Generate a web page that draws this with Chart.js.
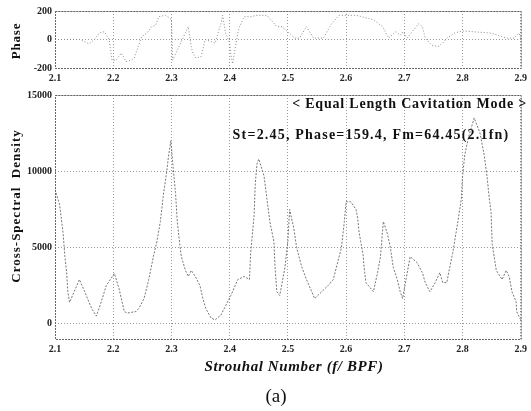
<!DOCTYPE html>
<html>
<head>
<meta charset="utf-8">
<script src="https://cdn.jsdelivr.net/npm/chart.js@4.4.1/dist/chart.umd.min.js"></script>
<style>
  html, body { margin: 0; padding: 0; background: #fff; }
  #wrap { position: relative; width: 531px; height: 411px; }
  #phase { position: absolute; left: 0; top: 0; }
  #csd { position: absolute; left: 0; top: 86px; }
</style>
</head>
<body>
<div id="wrap">
  <canvas id="phase" width="531" height="86"></canvas>
  <canvas id="csd" width="531" height="325"></canvas>
</div>
<script>
// Strouhal number axis ticks
const stTicks = [2.1, 2.2, 2.3, 2.4, 2.5, 2.6, 2.7, 2.8, 2.9];
const phaseTicks = [-200, 0, 200];
const csdTicks = [0, 5000, 10000, 15000];

// cross-spectral density vs. Strouhal number
const csdSt = [
  2.100, 2.108, 2.114, 2.117, 2.120, 2.122, 2.125, 2.142, 2.151, 2.163,
  2.171, 2.180, 2.188, 2.202, 2.210, 2.219, 2.224, 2.239, 2.244, 2.253,
  2.261, 2.269, 2.275, 2.281, 2.286, 2.292, 2.295, 2.299, 2.303, 2.307,
  2.310, 2.315, 2.317, 2.324, 2.329, 2.334, 2.341, 2.349, 2.354, 2.359,
  2.368, 2.375, 2.385, 2.402, 2.414, 2.425, 2.434, 2.436, 2.442, 2.444,
  2.447, 2.450, 2.459, 2.464, 2.469, 2.476, 2.478, 2.481, 2.486, 2.495,
  2.500, 2.503, 2.510, 2.515, 2.524, 2.532, 2.541, 2.546, 2.558, 2.569,
  2.578, 2.592, 2.597, 2.600, 2.608, 2.617, 2.620, 2.622, 2.625, 2.629,
  2.631, 2.634, 2.647, 2.654, 2.659, 2.664, 2.671, 2.676, 2.681, 2.688,
  2.693, 2.697, 2.710, 2.722, 2.731, 2.736, 2.744, 2.753, 2.761, 2.766,
  2.773, 2.778, 2.783, 2.792, 2.798, 2.800, 2.804, 2.810, 2.820, 2.830,
  2.837, 2.842, 2.846, 2.849, 2.851, 2.858, 2.868, 2.875, 2.880, 2.885,
  2.892, 2.893, 2.900
];
const csdVal = [
  8800, 7800, 5900, 4400, 3350, 2100, 1400, 2900, 2100, 1000,
  500, 1500, 2500, 3300, 2300, 800, 700, 800, 1000, 1650,
  2900, 4400, 5400, 6700, 8400, 10000, 11000, 12000, 10200, 8600,
  6700, 5000, 4400, 3500, 3100, 3500, 3100, 2500, 1650, 1000,
  380, 250, 570, 1850, 2900, 3100, 2900, 4600, 7100, 9200,
  10500, 10800, 9700, 8200, 6700, 5400, 3700, 2100, 1850, 3700,
  5400, 7500, 6300, 5000, 3700, 2900, 2100, 1650, 2100, 2500,
  2900, 5000, 6700, 8000, 8000, 7500, 6900, 6100, 5400, 4600,
  3700, 2700, 2100, 3350, 4400, 6700, 5900, 5000, 3700, 2900,
  2100, 1650, 4400, 4000, 3350, 2700, 2100, 2700, 3350, 2700,
  2700, 3700, 4600, 6700, 8200, 9700, 11100, 12200, 13500, 12500,
  11100, 9700, 8200, 7300, 5200, 3500, 2900, 3500, 3100, 2100,
  1450, 800, 250
];

// phase (deg) vs. Strouhal number
const phaseSt = [
  2.100, 2.142, 2.159, 2.168, 2.176, 2.185, 2.193, 2.198, 2.205, 2.214,
  2.222, 2.231, 2.236, 2.249, 2.258, 2.266, 2.273, 2.278, 2.290, 2.300,
  2.302, 2.329, 2.334, 2.337, 2.342, 2.351, 2.358, 2.375, 2.380, 2.385,
  2.388, 2.393, 2.400, 2.402, 2.405, 2.414, 2.417, 2.425, 2.436, 2.447,
  2.464, 2.481, 2.490, 2.512, 2.520, 2.532, 2.544, 2.561, 2.575, 2.588,
  2.603, 2.617, 2.646, 2.663, 2.673, 2.685, 2.693, 2.698, 2.705, 2.724,
  2.731, 2.736, 2.747, 2.758, 2.766, 2.773, 2.786, 2.800, 2.849, 2.876,
  2.888, 2.897, 2.900
];
const phaseVal = [
  0, 0, -30, 0, 45, 55, 0, -145, -145, -95,
  -155, -145, -130, 20, 45, 90, 100, 160, 170, 140,
  -145, 90, -50, -100, -130, -120, 0, -25, 45, 110,
  170, 45, -25, -100, -170, 45, 90, 160, 160, 170,
  170, 90, 90, 10, 10, 90, 10, 10, 110, 170,
  170, 170, 140, 90, 10, 55, 30, 55, 10, 110,
  90, 10, -40, -50, -25, 10, 45, 60, 45, 10,
  10, 45, 10
];

const serif = '"Liberation Serif", "DejaVu Serif", serif';

function toPoints(xs, ys) {
  return xs.map((x, i) => ({ x: x, y: ys[i] }));
}

// dotted frame round the plot area, plus titles and notes
const framePlugin = {
  id: 'frame',
  afterDraw(chart, args, opts) {
    const { ctx, chartArea: a } = chart;
    ctx.save();
    ctx.strokeStyle = '#666';
    ctx.lineWidth = 1;
    ctx.setLineDash([2, 1]);
    ctx.strokeRect(a.left + 0.5, a.top + 0.5, a.right - a.left, a.bottom - a.top);
    ctx.setLineDash([]);
    (opts.texts || []).forEach(t => {
      ctx.save();
      ctx.font = t.font;
      ctx.fillStyle = '#111';
      ctx.letterSpacing = (t.spacing || 0) + 'px';
      ctx.textAlign = t.align || 'center';
      ctx.textBaseline = 'middle';
      ctx.translate(t.x, t.y);
      if (t.rotate) ctx.rotate(-Math.PI / 2);
      ctx.fillText(t.text, 0, 0);
      ctx.restore();
    });
    ctx.restore();
  }
};

function xScale(height) {
  return {
    type: 'linear',
    min: 2.1,
    max: 2.9,
    afterBuildTicks: s => { s.ticks = stTicks.map(v => ({ value: v })); },
    afterFit: s => { s.height = height; },
    ticks: {
      callback: v => v.toFixed(1),
      font: { family: serif, size: 10, weight: 'bold' },
      color: '#222',
      padding: 4,
      maxRotation: 0,
      autoSkip: false
    },
    grid: { color: '#999', drawTicks: false },
    border: { display: false, dash: [1, 2] }
  };
}

function yScale(min, max, ticks) {
  return {
    min: min,
    max: max,
    afterBuildTicks: s => { s.ticks = ticks.map(v => ({ value: v })); },
    afterFit: s => { s.width = 55; },
    ticks: {
      callback: v => String(v),
      font: { family: serif, size: 10, weight: 'bold' },
      color: '#222',
      padding: 3
    },
    grid: { color: '#999', drawTicks: false },
    border: { display: false, dash: [1, 2] }
  };
}

new Chart(document.getElementById('phase'), {
  type: 'line',
  data: {
    datasets: [{
      data: toPoints(phaseSt, phaseVal),
      borderColor: '#8a8a8a',
      borderWidth: 1,
      borderDash: [1, 2],
      pointRadius: 0,
      tension: 0
    }]
  },
  options: {
    responsive: false,
    animation: false,
    layout: { padding: { left: 0, right: 4, top: 11, bottom: 0 } },
    plugins: {
      legend: { display: false },
      tooltip: { enabled: false },
      frame: {
        texts: [
          { text: 'Phase', x: 17, y: 41, rotate: true, spacing: 0.8,
            font: 'bold 13px ' + serif }
        ]
      }
    },
    scales: {
      x: xScale(18),
      y: yScale(-200, 200, phaseTicks)
    }
  },
  plugins: [framePlugin]
});

new Chart(document.getElementById('csd'), {
  type: 'line',
  data: {
    datasets: [{
      data: toPoints(csdSt, csdVal),
      borderColor: '#767676',
      borderWidth: 1,
      borderDash: [2, 1.5],
      pointRadius: 0,
      tension: 0
    }]
  },
  options: {
    responsive: false,
    animation: false,
    layout: { padding: { left: 0, right: 4, top: 4, bottom: 27 } },
    plugins: {
      legend: { display: false },
      tooltip: { enabled: false },
      frame: {
        texts: [
          { text: '< Equal Length Cavitation Mode >', x: 527, y: 18, align: 'right',
            spacing: 0.8, font: 'bold 14px ' + serif },
          { text: 'St=2.45, Phase=159.4, Fm=64.45(2.1fn)', x: 371, y: 49,
            spacing: 1.2, font: 'bold 14px ' + serif },
          { text: 'Cross-Spectral  Density', x: 17, y: 120, rotate: true, spacing: 1,
            font: 'bold 13px ' + serif },
          { text: 'Strouhal Number (f/ BPF)', x: 294, y: 281, spacing: 0.6,
            font: 'italic bold 15px ' + serif },
          { text: '(a)', x: 276, y: 311, font: '19px ' + serif }
        ]
      }
    },
    scales: {
      x: xScale(45),
      y: yScale(-1000, 15000, csdTicks)
    }
  },
  plugins: [framePlugin]
});
</script>
</body>
</html>
